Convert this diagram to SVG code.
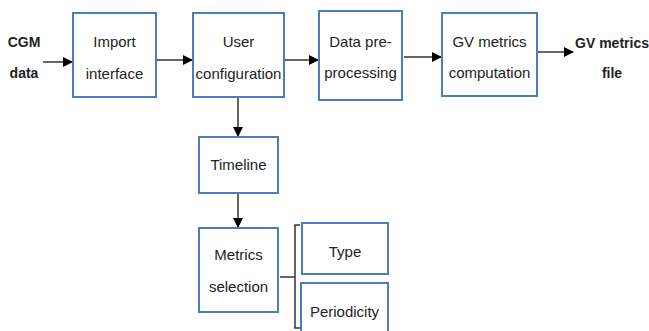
<svg xmlns="http://www.w3.org/2000/svg" width="649" height="331" viewBox="0 0 649 331">
<style>
.box{fill:#fff;stroke:#4a7ebb;stroke-width:2}
.t{font-family:"Liberation Sans",Arial,sans-serif;font-size:15px;fill:#222;text-anchor:middle}
.b{font-weight:bold;font-size:14px}
.c{stroke:#333;stroke-width:1.5;fill:none}
</style>
<defs>
<marker id="ah" markerWidth="10" markerHeight="10" refX="9" refY="5" orient="auto" markerUnits="userSpaceOnUse">
<path d="M0,0 L10,5 L0,10 Z" fill="#000"/>
</marker>
</defs>
<rect width="649" height="331" fill="#fff"/>
<g id="connectors">
<line class="c" x1="43" y1="62" x2="72" y2="62" marker-end="url(#ah)"/>
<line class="c" x1="157" y1="60" x2="192" y2="60" marker-end="url(#ah)"/>
<line class="c" x1="285" y1="60" x2="318" y2="60" marker-end="url(#ah)"/>
<line class="c" x1="404" y1="57" x2="441" y2="57" marker-end="url(#ah)"/>
<line class="c" x1="538" y1="52" x2="573" y2="52" marker-end="url(#ah)"/>
<line class="c" x1="238" y1="98" x2="238" y2="136" marker-end="url(#ah)"/>
<line class="c" x1="238" y1="194" x2="238" y2="227" marker-end="url(#ah)"/>
<path class="c" d="M300,225 H295 V328 H300 M280,277 H295" stroke-width="1.2"/>
</g>
<g id="cgm"><text class="t b" x="24" y="47">CGM</text><text class="t b" x="24" y="78">data</text></g>
<g id="import"><rect class="box" x="73" y="13" width="83" height="84"/><text class="t" x="114.5" y="47">Import</text><text class="t" x="114.5" y="79">interface</text></g>
<g id="userconf"><rect class="box" x="193" y="13" width="91" height="84"/><text class="t" x="238.5" y="47">User</text><text class="t" x="238.5" y="79">configuration</text></g>
<g id="datapre"><rect class="box" x="319" y="11" width="83" height="89"/><text class="t" x="360.5" y="47">Data pre-</text><text class="t" x="360.5" y="78">processing</text></g>
<g id="gvcomp"><rect class="box" x="442" y="13" width="95" height="83"/><text class="t" x="489.5" y="47">GV metrics</text><text class="t" x="489.5" y="78">computation</text></g>
<g id="gvfile"><text class="t b" x="612" y="48">GV metrics</text><text class="t b" x="612" y="78">file</text></g>
<g id="timeline"><rect class="box" x="199" y="137" width="79" height="56"/><text class="t" x="238.5" y="170">Timeline</text></g>
<g id="metrics"><rect class="box" x="199" y="228" width="79" height="84"/><text class="t" x="238.5" y="260">Metrics</text><text class="t" x="238.5" y="292">selection</text></g>
<g id="type"><rect class="box" x="302" y="223" width="86" height="51"/><text class="t" x="345" y="257">Type</text></g>
<g id="periodicity"><rect class="box" x="301" y="283" width="87" height="56"/><text class="t" x="344.5" y="317">Periodicity</text></g>
</svg>
